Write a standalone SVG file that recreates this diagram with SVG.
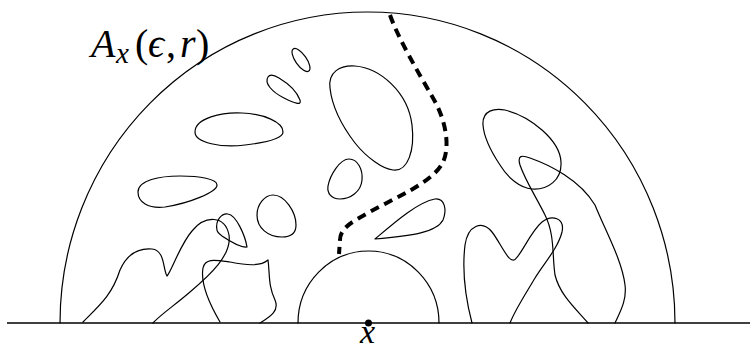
<svg xmlns="http://www.w3.org/2000/svg" width="750" height="350" viewBox="0 0 750 350">
<style>
.c{fill:none;stroke:#000;stroke-width:1.2;stroke-linejoin:round;stroke-linecap:round}
.base{fill:none;stroke:#000;stroke-width:1.6}
.dash{fill:none;stroke:#000;stroke-width:4;stroke-dasharray:9 6}
.t{font-family:'Liberation Serif','DejaVu Serif','Times New Roman',serif;fill:#000}
.m{font-style:italic}
.u{font-style:normal}
</style>
<rect width="750" height="350" fill="#fff"/>
<g id="baseline"><line class="base" x1="7" y1="323" x2="750" y2="323"/></g>
<g id="outer-arc"><path class="c" d="M60,323 A307.5,311 0 0 1 675,323"/></g>
<g id="inner-arc"><path class="c" d="M298,323 A70.5,72 0 0 1 439,323"/></g>
<g id="point-x"><circle cx="368.5" cy="323" r="3.5" fill="#000"/>
<text class="t m" x="360" y="343" font-size="34">x</text></g>
<g id="label"><text class="t" font-size="40"><tspan class="m" x="91" y="57">A</tspan><tspan class="m" x="116" y="63" font-size="29">x</tspan><tspan class="u" x="135" y="57">(</tspan><tspan class="m" x="148" y="57">ϵ</tspan><tspan class="u" x="166" y="57">,</tspan><tspan class="m" x="180" y="57">r</tspan><tspan class="u" x="196" y="57">)</tspan></text></g>
<g id="blobs">
<path id="b1" class="c" d="M195,132 C195,118 222,112 242,113 C264,114 283,122 283,132 C283,139 262,143 245,145 C222,148 195,143 195,132 Z"/>
<path id="b2" class="c" d="M138,192 C138,180 160,176 180,176 C200,176 217,179 217,185 C217,192 190,203 165,207 C148,209 138,202 138,192 Z"/>
<ellipse id="b3" class="c" cx="301" cy="60" rx="13.5" ry="5.5" transform="rotate(55 301 60)"/>
<path id="b4" class="c" d="M268,77 C264,83 272,92 284,98 C294,103 302,106 300,100 C297,92 289,84 279,78 C274,75 270,74 268,77 Z"/>
<path id="b5" class="c" d="M330,88 C328,72 340,65 355,66 C380,68 408,92 412,125 C415,150 408,172 393,170 C383,169 367,158 355,143 C342,126 332,106 330,88 Z"/>
<path id="b6" class="c" d="M349,159 C358,159 363,170 362,180 C361,192 350,199 340,199 C331,199 327,193 328,186 C330,175 340,159 349,159 Z"/>
<path id="b7" class="c" d="M273,195 C285,195 296,212 296,225 C296,234 290,237 282,237 C268,237 257,228 257,215 C257,204 265,195 273,195 Z"/>
<path id="b8" class="c" d="M375,239 C395,222 418,202 435,199 C445,198 447,210 443,220 C437,232 412,236 375,239 Z"/>
<path id="b9" class="c" d="M483,125 C482,110 495,108 505,110 C530,116 560,140 561,162 C562,180 548,190 532,189 C520,188 508,178 500,165 C490,150 484,138 483,125 Z"/>
<path id="b10" class="c" d="M217,230 C215,220 222,213 228,214 C236,215 245,235 247,247 C240,248 228,240 222,236 C218,233 217,232 217,230 Z"/>
</g>
<g id="curves">
<path id="cA" class="c" d="M83,322 C100,305 112,295 120,270 C128,252 140,248 152,249 C165,250 163,270 167,276 C172,270 180,245 192,231 C205,215 225,215 229,235 C232,255 210,275 190,292 C175,305 160,315 153,323"/>
<path id="cC" class="c" d="M220,322 C210,305 200,285 203,268 C205,258 215,260 230,262 C245,265 260,267 268,260 C270,275 268,285 275,300 C280,312 268,318 260,323"/>
<path id="cD" class="c" d="M472,323 C466,300 462,270 465,245 C468,225 482,220 492,232 C500,242 508,262 514,260 C520,258 530,232 542,222 C552,214 565,218 562,232 C558,248 545,262 535,278 C525,295 515,310 510,323"/>
<path id="cE" class="c" d="M588,323 C575,308 560,295 555,275 C552,255 555,235 545,215 C535,195 525,180 520,165 C517,155 522,155 530,158 C550,165 580,180 595,205 C605,230 622,260 625,285 C627,300 620,312 615,323"/>
<path id="dashed" class="dash" d="M390,15 C398,38 418,72 433,98 C446,120 451,148 442,164 C430,184 396,197 368,213 C352,222 340,228 340,240 L339,254"/>
</g>
</svg>
